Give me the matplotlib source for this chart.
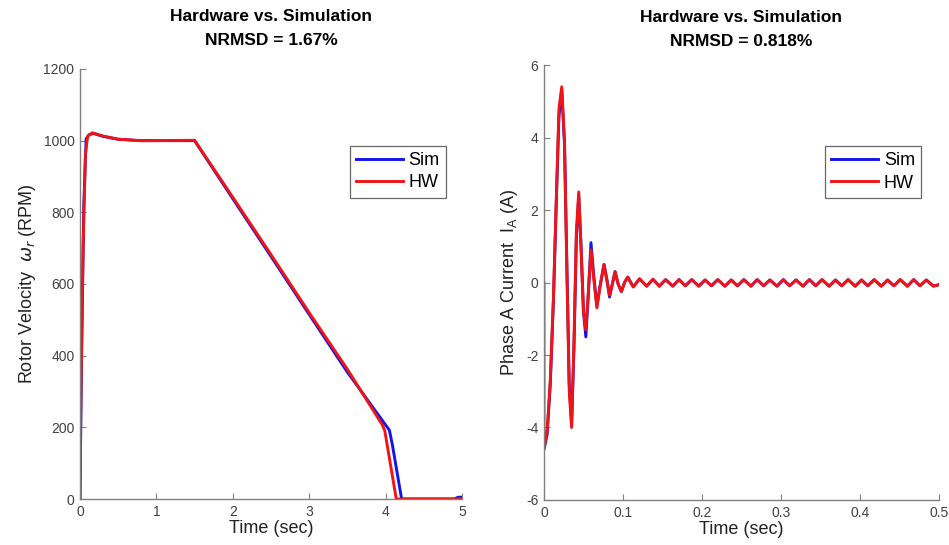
import matplotlib.pyplot as plt

plt.rcParams['font.family'] = ['Liberation Sans', 'DejaVu Sans']
plt.rcParams['axes.unicode_minus'] = False

# rotor speed (RPM)
t_speed_sim = [0, 0.02, 0.05, 0.08, 0.12, 0.18, 0.3, 0.5, 0.8, 1.5, 2.0, 2.5, 3.0, 3.5, 4.05, 4.09, 4.21, 4.9, 4.95, 5.0]
speed_sim = [0, 400, 820, 1005, 1017, 1020, 1012, 1004, 1000, 1000, 838, 677, 515, 354, 192, 150, 0, 0, 5, 5]
t_speed_hw = [0, 0.01, 0.04, 0.07, 0.1, 0.16, 0.3, 0.5, 0.8, 1.5, 2.0, 2.5, 3.0, 3.5, 3.96, 3.99, 4.14, 5.0]
speed_hw = [0, 250, 700, 960, 1012, 1022, 1013, 1004, 1000, 1001, 842, 682, 520, 362, 206, 190, 0, 0]

# phase A current (A)
t_cur = [0, 0.004, 0.008, 0.012, 0.016, 0.019, 0.0225, 0.026, 0.029, 0.032, 0.035, 0.038,
         0.041, 0.044, 0.047, 0.050, 0.053, 0.056, 0.0595, 0.063, 0.067, 0.071, 0.076,
         0.080, 0.083, 0.087, 0.090, 0.094, 0.098, 0.102, 0.106]
cur_sim = [-4.6, -4.2, -2.8, -0.5, 2.5, 4.6, 5.3, 3.8, 0.5, -2.8, -3.9, -1.8,
           1.2, 2.4, 1.0, -0.8, -1.5, -0.4, 1.1, 0.2, -0.65, -0.1, 0.5,
           0.05, -0.4, 0.0, 0.3, -0.05, -0.25, 0.0, 0.15]
cur_hw = [-4.6, -4.1, -2.7, -0.4, 2.6, 4.8, 5.4, 3.9, 0.3, -3.0, -4.0, -1.6,
          1.4, 2.5, 0.9, -0.8, -1.3, -0.3, 0.9, 0.1, -0.7, -0.1, 0.5,
          0.0, -0.35, 0.0, 0.3, -0.05, -0.25, 0.0, 0.15]
t_ripple = [0.113, 0.121, 0.130, 0.138, 0.146, 0.154, 0.163, 0.171, 0.179, 0.187, 0.196, 0.204,
            0.212, 0.220, 0.229, 0.237, 0.245, 0.253, 0.262, 0.270, 0.278, 0.286, 0.295, 0.303,
            0.311, 0.319, 0.328, 0.336, 0.344, 0.352, 0.361, 0.369, 0.377, 0.385, 0.394, 0.402,
            0.410, 0.418, 0.427, 0.435, 0.443, 0.451, 0.460, 0.468, 0.476, 0.484, 0.493, 0.500]
ripple = [-0.12, 0.10, -0.10, 0.09, -0.10, 0.08, -0.10, 0.08, -0.09, 0.08, -0.10, 0.07,
          -0.09, 0.08, -0.10, 0.07, -0.09, 0.08, -0.10, 0.08, -0.09, 0.07, -0.10, 0.08,
          -0.09, 0.07, -0.10, 0.08, -0.09, 0.08, -0.10, 0.07, -0.09, 0.08, -0.10, 0.07,
          -0.09, 0.08, -0.10, 0.07, -0.09, 0.08, -0.10, 0.08, -0.09, 0.07, -0.10, -0.06]

blue = '#1414e6'
red = '#f01414'
grey = '#404040'

fig = plt.figure(figsize=(9.49, 5.45), dpi=100)
ax1 = fig.add_axes([0.0843, 0.0844, 0.4025, 0.789])
ax2 = fig.add_axes([0.5732, 0.0826, 0.4162, 0.798])


def style(ax):
    for s in ['top', 'right']:
        ax.spines[s].set_visible(False)
    for s in ['left', 'bottom']:
        ax.spines[s].set_color('#808080')
        ax.spines[s].set_linewidth(1.0)
    ax.tick_params(direction='in', length=4, color='#808080', labelsize=10, labelcolor=grey, pad=4)


def legend(ax, anchor):
    leg = ax.legend(loc='upper right', bbox_to_anchor=anchor, fontsize=13, fancybox=False,
                    edgecolor='#444444', handlelength=2.6, borderpad=0.35, labelspacing=0.3,
                    handletextpad=0.3, borderaxespad=0)
    leg.get_frame().set_linewidth(0.9)


ax1.plot(t_speed_sim, speed_sim, color=blue, lw=2.1, label='Sim')
ax1.plot(t_speed_hw, speed_hw, color=red, lw=2.1, label='HW')
ax1.set_xlim(0, 5)
ax1.set_ylim(0, 1200)
ax1.set_xticks(range(0, 6))
ax1.set_yticks(range(0, 1201, 200))
ax1.set_xlabel('Time (sec)', fontsize=13, color='#222222', labelpad=1)
ax1.set_ylabel(r'Rotor Velocity  $\omega_r$ (RPM)', fontsize=13, color='#222222', labelpad=4)
ax1.set_title('Hardware vs. Simulation\nNRMSD = 1.67%', fontsize=12.5, fontweight='bold',
              pad=17, linespacing=1.75)
style(ax1)
legend(ax1, (0.958, 0.822))

ax2.plot(t_cur + t_ripple, cur_sim + ripple, color=blue, lw=2.1, label='Sim')
ax2.plot([0] + t_cur + t_ripple, [0] + cur_hw + ripple, color=red, lw=2.1, label='HW')
ax2.set_xlim(0, 0.5)
ax2.set_ylim(-6, 6)
ax2.set_xticks([0, 0.1, 0.2, 0.3, 0.4, 0.5])
ax2.set_xticklabels(['0', '0.1', '0.2', '0.3', '0.4', '0.5'])
ax2.set_yticks(range(-6, 7, 2))
ax2.set_xlabel('Time (sec)', fontsize=13, color='#222222', labelpad=1)
ax2.set_ylabel(r'Phase A Current  $\mathregular{I_A}$ (A)', fontsize=13, color='#222222', labelpad=4)
ax2.set_title('Hardware vs. Simulation\nNRMSD = 0.818%', fontsize=12.5, fontweight='bold',
              pad=14, linespacing=1.75)
style(ax2)
legend(ax2, (0.955, 0.814))

fig.savefig('out.png', dpi=100)
